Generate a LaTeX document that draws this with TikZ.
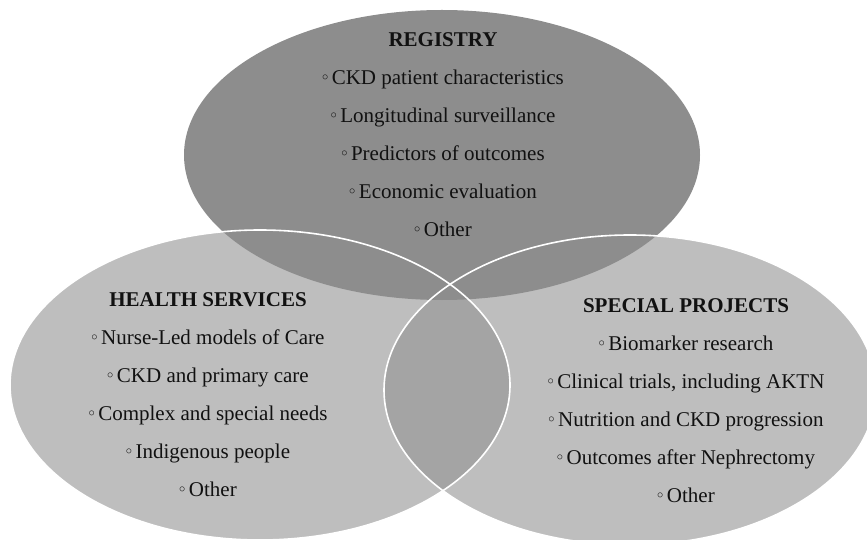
\documentclass[tikz,border=0pt]{standalone}
\usepackage{fontspec}
\setmainfont{Liberation Serif}
\usetikzlibrary{shapes.geometric}
\definecolor{topgray}{HTML}{8D8D8D}
\definecolor{sidegray}{HTML}{BEBEBE}
\definecolor{lensgray}{HTML}{A4A4A4}
\definecolor{inkgray}{HTML}{111111}
\newcommand{\bul}{\raisebox{0.45ex}{\scalebox{0.6}{$\circ$}}\,}
\tikzset{
  blob/.style={ellipse, inner sep=0pt, draw=none},
  rim/.style={ellipse, inner sep=0pt, draw=white, line width=1.6pt},
  block/.style={align=center, text=inkgray, font=\fontsize{21}{38}\selectfont}
}
\begin{document}
\begin{tikzpicture}[x=1pt,y=-1pt]
\useasboundingbox (0,0) rectangle (867,540);
\fill[white] (0,0) rectangle (867,540);
% side ellipses
\node[blob, fill=sidegray, minimum width=500pt, minimum height=310pt] (hs) at (260,385) {};
\node[blob, fill=sidegray, minimum width=492pt, minimum height=310pt] (sp) at (630,390) {};
% lens
\begin{scope}
  \clip (260,385) ellipse [x radius=250pt, y radius=155pt];
  \fill[lensgray] (630,390) ellipse [x radius=246pt, y radius=155pt];
\end{scope}
% top ellipse
\node[blob, fill=topgray, minimum width=516pt, minimum height=290pt] (reg) at (442,155) {};
% white rims
\node[rim, minimum width=500pt, minimum height=310pt] (hsrim) at (260,385) {};
\node[rim, minimum width=492pt, minimum height=310pt] (sprim) at (630,390) {};
% texts
\node[block] (regtext) at (443,135) {\textbf{REGISTRY}\\
\bul CKD patient characteristics\\
\bul Longitudinal surveillance\\
\bul Predictors of outcomes\\
\bul Economic evaluation\\
\bul Other};
\node[block] (hstext) at (208,395) {\textbf{HEALTH SERVICES}\\
\bul Nurse-Led models of Care\\
\bul CKD and primary care\\
\bul Complex and special needs\\
\bul Indigenous people\\
\bul Other};
\node[block] (sptext) at (686,401) {\textbf{SPECIAL PROJECTS}\\
\bul Biomarker research\\
\bul Clinical trials, including AKTN\\
\bul Nutrition and CKD progression\\
\bul Outcomes after Nephrectomy\\
\bul Other};
\end{tikzpicture}
\end{document}
